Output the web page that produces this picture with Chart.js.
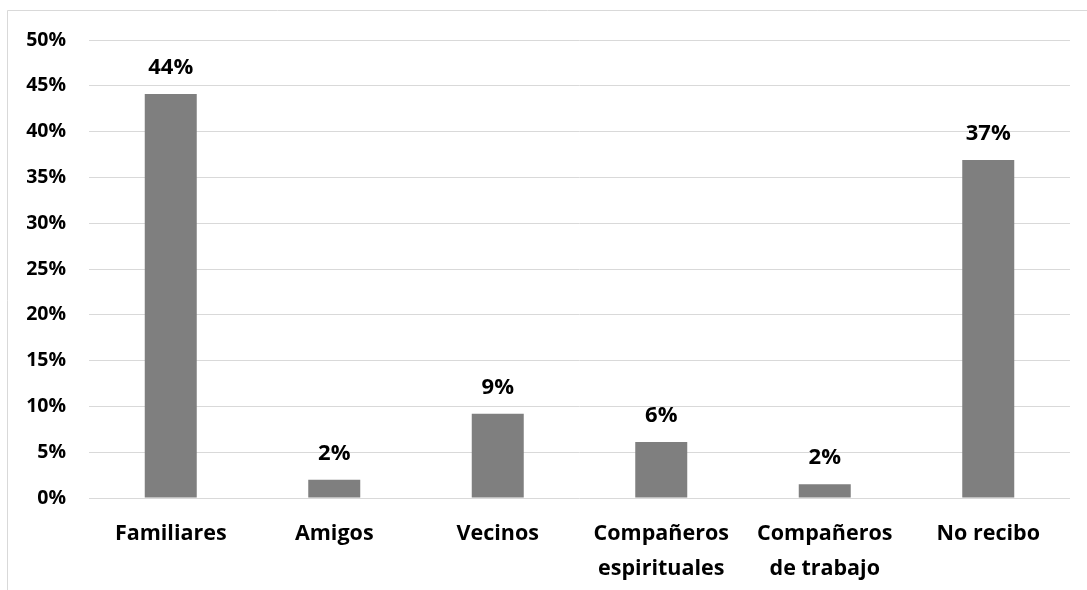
<!DOCTYPE html>
<html>
<head>
<meta charset="utf-8">
<script src="https://cdn.jsdelivr.net/npm/chart.js@4"></script>
<style>
  html, body { margin: 0; padding: 0; background: #fff; }
  #wrap { width: 1087px; height: 590px; position: relative; }
</style>
</head>
<body>
<div id="wrap"><canvas id="c" width="1087" height="590"></canvas></div>
<script>
const categories = [
  ["Familiares"],
  ["Amigos"],
  ["Vecinos"],
  ["Compañeros", "espirituales"],
  ["Compañeros", "de trabajo"],
  ["No recibo"]
];
const values = [44.1, 2.0, 9.2, 6.1, 1.5, 36.9];
const valueLabels = ["44%", "2%", "9%", "6%", "2%", "37%"];
const yTicks = [0, 5, 10, 15, 20, 25, 30, 35, 40, 45, 50];

const FONT = "'Open Sans', Lato, sans-serif";

const framePlugin = {
  id: 'frame',
  beforeDraw(chart) {
    const ctx = chart.ctx;
    ctx.save();
    ctx.fillStyle = '#fff';
    ctx.fillRect(0, 0, chart.width, chart.height);
    ctx.strokeStyle = '#d9d9d9';
    ctx.lineWidth = 1;
    ctx.beginPath();
    ctx.moveTo(7.5, chart.height);
    ctx.lineTo(7.5, 10.5);
    ctx.lineTo(chart.width, 10.5);
    ctx.stroke();
    ctx.restore();
  }
};

const labelPlugin = {
  id: 'valLabels',
  afterDatasetsDraw(chart) {
    const ctx = chart.ctx;
    const meta = chart.getDatasetMeta(0);
    ctx.save();
    ctx.font = "bold 22px " + FONT;
    ctx.fillStyle = '#000';
    ctx.textAlign = 'center';
    ctx.textBaseline = 'alphabetic';
    meta.data.forEach((bar, i) => {
      ctx.fillText(valueLabels[i], bar.x, bar.y - 20);
    });
    ctx.restore();
  }
};

new Chart(document.getElementById('c'), {
  type: 'bar',
  data: {
    labels: categories,
    datasets: [{
      data: values,
      backgroundColor: '#7f7f7f',
      borderWidth: 0,
      categoryPercentage: 1,
      barPercentage: 0.318
    }]
  },
  options: {
    responsive: false,
    animation: false,
    layout: { padding: { top: 40, right: 17, left: 0, bottom: 0 } },
    plugins: { legend: { display: false }, tooltip: { enabled: false } },
    scales: {
      x: {
        grid: { display: false, drawTicks: false },
        border: { display: false },
        ticks: {
          color: '#000',
          padding: 18,
          maxRotation: 0,
          autoSkip: false,
          font: { family: FONT, size: 21.5, weight: 'bold', lineHeight: 1.63 }
        },
        afterFit(s) { s.height = 92; }
      },
      y: {
        min: 0,
        max: 50,
        afterBuildTicks(s) { s.ticks = yTicks.map(v => ({ value: v })); },
        grid: { color: '#d9d9d9', lineWidth: 1, drawTicks: false },
        border: { display: false },
        ticks: {
          color: '#000',
          padding: 23,
          font: { family: FONT, size: 19.5, weight: 'bold' },
          callback: v => v + '%'
        },
        afterFit(s) { s.width = 89; }
      }
    }
  },
  plugins: [framePlugin, labelPlugin]
});
</script>
</body>
</html>
